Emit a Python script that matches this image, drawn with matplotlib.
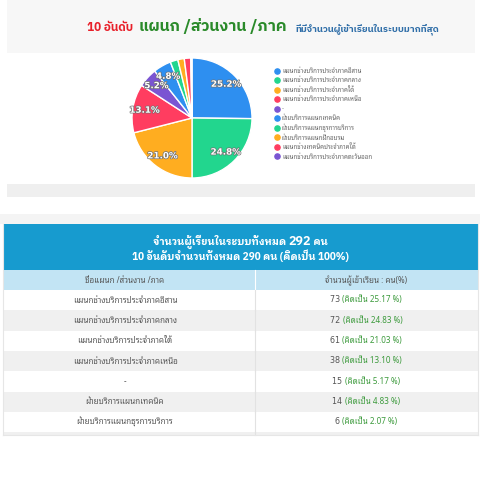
import matplotlib
matplotlib.use("Agg")
import matplotlib.pyplot as plt
from matplotlib.patches import Rectangle
import matplotlib.patheffects as pe

THAI = ["Noto Sans Thai Looped", "DejaVu Sans"]
THAI_BOLD = ["IBM Plex Sans Thai Looped", "DejaVu Sans"]
THAI_TITLE = ["IBM Plex Sans Thai", "DejaVu Sans"]
plt.rcParams["font.family"] = THAI

# ข้อมูล 10 อันดับ
departments = [
    "แผนกช่างบริการประจำภาคอีสาน",
    "แผนกช่างบริการประจำภาคกลาง",
    "แผนกช่างบริการประจำภาคใต้",
    "แผนกช่างบริการประจำภาคเหนือ",
    "-",
    "ฝ่ายบริการแผนกเทคนิค",
    "ฝ่ายบริการแผนกธุรการบริการ",
    "ฝ่ายบริการแผนกฝึกอบรม",
    "แผนกช่างเทคนิคประจำภาคใต้",
    "แผนกช่างบริการประจำภาคตะวันออก",
]
counts = [73, 72, 61, 38, 15, 14, 6, 5, 5, 1]
total_all = 292
shown_rows = 7

colors = ["#2e8ff0", "#22d68e", "#ffad20", "#ff3d60", "#7a55d2",
          "#2e8ff0", "#22d68e", "#ffad20", "#ff3d60", "#7a55d2"]

total_top = sum(counts)

fig = plt.figure(figsize=(4.8, 4.8), dpi=100)
ax = fig.add_axes([0, 0, 1, 1])
ax.set_xlim(0, 480)
ax.set_ylim(480, 0)
ax.axis("off")
renderer = fig.canvas.get_renderer()


def text_row(parts, x_center, y, **common):
    """Ставит несколько кусков текста подряд, центрируя всю строку."""
    items = []
    for s, kw in parts:
        t = ax.text(0, y, s, va="baseline", **common, **kw)
        items.append(t)
    widths = [t.get_window_extent(renderer).width for t in items]
    x = x_center - sum(widths) / 2
    for t, w in zip(items, widths):
        t.set_x(x)
        x += w


# --- карточка с диаграммой ---
ax.add_patch(Rectangle((7, 0), 468, 198, facecolor="white", edgecolor="none"))
ax.add_patch(Rectangle((7, 0), 468, 53, facecolor="#f7f7f7", edgecolor="none"))
ax.add_patch(Rectangle((7, 184), 468, 13, facecolor="#efefef", edgecolor="none"))

ax.text(87, 31, "10 อันดับ", color="#e8202a", fontsize=8.5, fontweight="bold",
        family=THAI_TITLE, va="baseline")
ax.text(139, 31, "แผนก /ส่วนงาน /ภาค", color="#2a8a2a", fontsize=11.4,
        fontweight="bold", family=THAI_TITLE, va="baseline")
ax.text(295, 31, "ที่มีจำนวนผู้เข้าเรียนในระบบมากที่สุด", color="#2f6ea8",
        fontsize=6.8, fontweight="bold", family=THAI_TITLE, va="baseline")

pie_ax = fig.add_axes([132 / 480, 302 / 480, 120 / 480, 120 / 480])
wedges, _t, autotexts = pie_ax.pie(
    counts, colors=colors, startangle=90, counterclock=False,
    wedgeprops=dict(edgecolor="white", linewidth=1.0),
    autopct=lambda p: f"{p:.1f}%" if p > 4 else "", pctdistance=0.8,
)
for t in autotexts:
    t.set_color("white")
    t.set_fontsize(6.3)
    t.set_fontweight("bold")
    t.set_family("DejaVu Sans")
    t.set_path_effects([pe.withStroke(linewidth=1.0, foreground="#707070")])
pie_ax.set_xlim(-1, 1)
pie_ax.set_ylim(-1, 1)
pie_ax.set_aspect("equal")

for i, (name, col) in enumerate(zip(departments, colors)):
    y = 70.5 + i * 9.55
    ax.scatter(277, y, s=14, color=col, zorder=3)
    ax.text(282, y, name, fontsize=4.4, color="#666666", va="center")

# --- таблица ---
ax.add_patch(Rectangle((0, 214), 480, 10, facecolor="#f4f4f4", edgecolor="none"))
ax.add_patch(Rectangle((3, 224), 475, 46, facecolor="#179bcf", edgecolor="none"))
hdr = dict(color="white", fontweight="bold", family=THAI_BOLD)
text_row([("จำนวนผู้เรียนในระบบทั้งหมด ", dict(fontsize=7.2)),
          (f"{total_all}", dict(fontsize=9)),
          (" คน", dict(fontsize=7.2))], 240, 245, **hdr)
text_row([(f"10 อันดับจำนวนทั้งหมด {total_top} คน (คิดเป็น 100%)",
           dict(fontsize=7.2))], 240, 260, **hdr)

ax.add_patch(Rectangle((3, 270), 475, 20, facecolor="#c2e4f4", edgecolor="none"))
ax.plot([255, 255], [270, 290], color="#ffffff", lw=0.8)
ax.text(125, 280.5, "ชื่อแผนก /ส่วนงาน /ภาค", color="#555555", fontsize=5.8,
        ha="center", va="center")
ax.text(366, 280.5, "จำนวนผู้เข้าเรียน : คน(%)", color="#555555", fontsize=5.8,
        ha="center", va="center")

row_h = 20.3
for i in range(shown_rows + 1):
    top = 290 + i * row_h
    h = row_h if i < shown_rows else 3
    face = "white" if i % 2 == 0 else "#f0f0f0"
    ax.add_patch(Rectangle((3, top), 475, h, facecolor=face, edgecolor="none"))
    ax.plot([255, 255], [top, top + h], color="#e2e2e2", lw=0.8)
    if i >= shown_rows:
        continue
    yc = top + row_h / 2
    ax.text(125, yc, departments[i], color="#555555", fontsize=5.8,
            ha="center", va="center")
    pct = counts[i] / total_top * 100
    text_row([(f"{counts[i]} ", dict(color="#555555", family="DejaVu Sans")),
              (f"(คิดเป็น {pct:.2f} %)", dict(color="#3c9a3c"))],
             366, yc + 2.2, fontsize=5.8)
ax.plot([3, 3], [224, 435], color="#e6e6e6", lw=0.8)
ax.plot([478, 478], [224, 435], color="#e6e6e6", lw=0.8)
ax.plot([3, 478], [435, 435], color="#e6e6e6", lw=0.8)

fig.savefig("out.png", dpi=100)
